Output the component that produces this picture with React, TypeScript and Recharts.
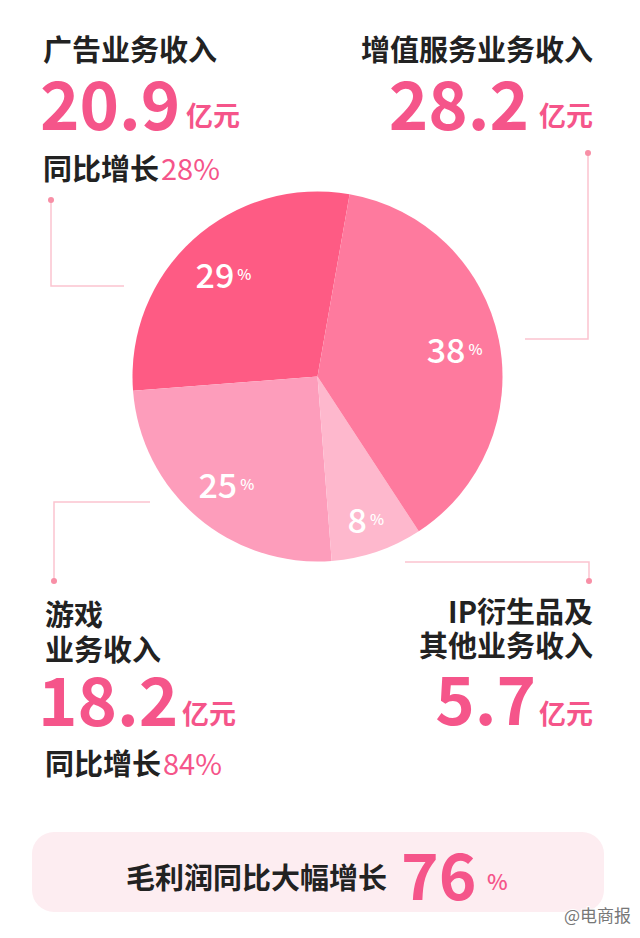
import { PieChart, Pie, Cell } from 'recharts'

// revenue split, counter-clockwise from the top
const segments = ['广告业务收入', '游戏业务收入', 'IP衍生品及其他业务收入', '增值服务业务收入']
const shares = [29, 25, 8, 38]
const revenue = ['20.9', '18.2', '5.7', '28.2']
const growth = ['28%', '84%']
const unit = '亿元'
const grossProfitGrowth = '76'

const sliceColors = ['#fe5b84', '#fd9dbb', '#feb8cd', '#fe7a9e']
const PINK = '#f5558a'
const INK = '#222222'
const CJK = "'Noto Sans CJK SC', 'Noto Sans', sans-serif"
const RAD = Math.PI / 180

const data = segments.map((name, i) => ({ name, value: shares[i] }))

// white percentage labels sitting inside each slice
function renderLabel(props: any) {
  const { cx, cy, midAngle, value } = props
  const r = value < 10 ? 150 : 140
  const x = cx + r * Math.cos(-midAngle * RAD)
  const y = cy + r * Math.sin(-midAngle * RAD)
  return (
    <text
      x={x}
      y={y}
      textAnchor="middle"
      dominantBaseline="central"
      fill="#ffffff"
      fontFamily={CJK}
      fontWeight={500}
    >
      <tspan fontSize={34}>{value}</tspan>
      <tspan fontSize={15} dx={3}>%</tspan>
    </text>
  )
}

const line = { stroke: '#fcc4cf', strokeWidth: 1.5, fill: 'none' }
const dot = { r: 3, fill: '#f88fa6' }

export default function App() {
  return (
    <div
      style={{
        position: 'absolute',
        left: 0,
        top: 0,
        width: 640,
        height: 938,
        background: '#ffffff',
        overflow: 'hidden',
      }}
    >
      <div style={{ position: 'absolute', left: 0, top: 0 }}>
        <PieChart width={640} height={938} margin={{ top: 0, right: 0, bottom: 0, left: 0 }}>
          <Pie
            data={data}
            dataKey="value"
            cx={317.5}
            cy={376.5}
            outerRadius={185}
            startAngle={80}
            endAngle={440}
            stroke="none"
            label={renderLabel}
            labelLine={false}
            isAnimationActive={false}
          >
            {data.map((d, i) => (
              <Cell key={d.name} fill={sliceColors[i]} />
            ))}
          </Pie>
        </PieChart>
      </div>

      <svg
        width={640}
        height={938}
        style={{ position: 'absolute', left: 0, top: 0, pointerEvents: 'none' }}
      >
        {/* connector lines */}
        <polyline points="51,200 51,286 124,286" {...line} />
        <circle cx={51} cy={200} {...dot} />
        <polyline points="588,153 588,339 525,339" {...line} />
        <circle cx={588} cy={153} {...dot} />
        <polyline points="150,502 54,502 54,581" {...line} />
        <circle cx={54} cy={581} {...dot} />
        <polyline points="405,562 589,562 589,581" {...line} />
        <circle cx={589} cy={581} {...dot} />

        {/* top left: advertising */}
        <text x={43} y={61} fontFamily={CJK} fontSize={29} fontWeight={700} fill={INK}>
          广告业务收入
        </text>
        <text x={40} y={130} fontFamily={CJK} fontSize={67} fontWeight={700} fill={PINK}>
          {revenue[0]}
        </text>
        <text x={186} y={126} fontFamily={CJK} fontSize={27} fontWeight={700} fill={PINK}>
          {unit}
        </text>
        <text x={43} y={180} fontFamily={CJK} fontSize={29} fill={INK} fontWeight={700}>
          同比增长
          <tspan fontWeight={400} fill={PINK} dx={2}>{growth[0]}</tspan>
        </text>

        {/* top right: value-added services */}
        <text x={593} y={61} textAnchor="end" fontFamily={CJK} fontSize={29} fontWeight={700} fill={INK}>
          增值服务业务收入
        </text>
        <text x={529} y={130} textAnchor="end" fontFamily={CJK} fontSize={67} fontWeight={700} fill={PINK}>
          {revenue[3]}
        </text>
        <text x={593} y={126} textAnchor="end" fontFamily={CJK} fontSize={27} fontWeight={700} fill={PINK}>
          {unit}
        </text>

        {/* bottom left: games */}
        <text x={45} y={626} fontFamily={CJK} fontSize={29} fontWeight={700} fill={INK}>
          游戏
        </text>
        <text x={45} y={661} fontFamily={CJK} fontSize={29} fontWeight={700} fill={INK}>
          业务收入
        </text>
        <text x={38} y={726} fontFamily={CJK} fontSize={67} fontWeight={700} fill={PINK}>
          {revenue[1]}
        </text>
        <text x={182} y={724} fontFamily={CJK} fontSize={27} fontWeight={700} fill={PINK}>
          {unit}
        </text>
        <text x={45} y={775} fontFamily={CJK} fontSize={29} fill={INK} fontWeight={700}>
          同比增长
          <tspan fontWeight={400} fill={PINK} dx={2}>{growth[1]}</tspan>
        </text>

        {/* bottom right: IP and other */}
        <text x={593} y={623} textAnchor="end" fontFamily={CJK} fontSize={29} fontWeight={700} fill={INK}>
          IP衍生品及
        </text>
        <text x={593} y={657} textAnchor="end" fontFamily={CJK} fontSize={29} fontWeight={700} fill={INK}>
          其他业务收入
        </text>
        <text x={536} y={725} textAnchor="end" fontFamily={CJK} fontSize={67} fontWeight={700} fill={PINK}>
          {revenue[2]}
        </text>
        <text x={593} y={724} textAnchor="end" fontFamily={CJK} fontSize={27} fontWeight={700} fill={PINK}>
          {unit}
        </text>

        {/* gross profit banner */}
        <rect x={32} y={832} width={572} height={80} rx={22} fill="#fdedf1" />
        <text x={126} y={889} fontFamily={CJK} fontSize={29} fontWeight={700} fill={INK}>
          毛利润同比大幅增长
        </text>
        <text x={401} y={900} fontFamily={CJK} fontSize={64} fontWeight={700} fill={PINK}>
          {grossProfitGrowth}
        </text>
        <text x={487} y={890} fontFamily={CJK} fontSize={22} fontWeight={500} fill={PINK}>
          %
        </text>

        {/* watermark */}
        <text
          x={631}
          y={922}
          textAnchor="end"
          fontFamily={CJK}
          fontSize={17}
          fill="#777777"
          stroke="#ffffff"
          strokeWidth={2}
          paintOrder="stroke"
        >
          @电商报
        </text>
      </svg>
    </div>
  )
}
